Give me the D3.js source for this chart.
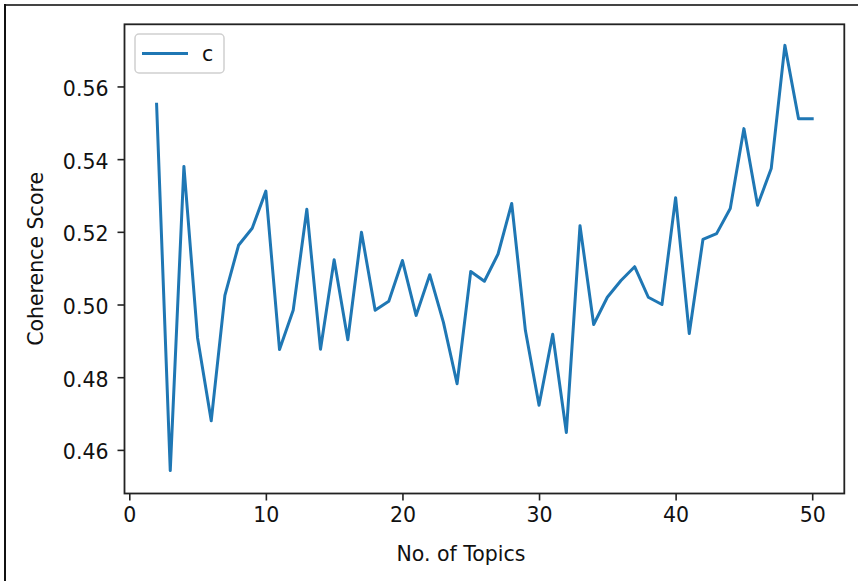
<!DOCTYPE html>
<html>
<head>
<meta charset="utf-8">
<script src="https://d3js.org/d3.v7.min.js"></script>
<style>
  html, body { margin: 0; padding: 0; background: #fff; }
  svg { display: block; }
  text { font-family: "DejaVu Sans", sans-serif; fill: #111; }
</style>
</head>
<body>
<svg id="chart" width="858" height="581"></svg>
<script>
// number of topics and coherence score
const topics = [2, 3, 4, 5, 6, 7, 8, 9, 10, 11, 12, 13, 14, 15, 16, 17, 18, 19, 20, 21,
                22, 23, 24, 25, 26, 27, 28, 29, 30, 31, 32, 33, 34, 35, 36, 37, 38, 39, 40, 41,
                42, 43, 44, 45, 46, 47, 48, 49, 50];
const coherence = [0.5551, 0.4543, 0.5380, 0.4908, 0.4680, 0.5025, 0.5163, 0.5210, 0.5312, 0.4876,
                   0.4984, 0.5262, 0.4877, 0.5123, 0.4903, 0.5199, 0.4984, 0.5009, 0.5121, 0.4970,
                   0.5082, 0.4951, 0.4782, 0.5091, 0.5064, 0.5139, 0.5278, 0.4929, 0.4723, 0.4918,
                   0.4648, 0.5217, 0.4945, 0.5020, 0.5066, 0.5104, 0.5020, 0.5000, 0.5294, 0.4920,
                   0.5179, 0.5195, 0.5264, 0.5484, 0.5273, 0.5374, 0.5713, 0.5511, 0.5511];
const xTicks = [0, 10, 20, 30, 40, 50];
const yTicks = [0.46, 0.48, 0.50, 0.52, 0.54, 0.56];
const seriesName = "c";

const svg = d3.select('#chart');

// outer frame of the picture (top and left edges only)
svg.append('line').attr('x1', 5).attr('x2', 858).attr('y1', 5).attr('y2', 5)
    .attr('stroke', '#444').attr('stroke-width', 2);
svg.append('line').attr('x1', 5).attr('x2', 5).attr('y1', 4).attr('y2', 581)
    .attr('stroke', '#111').attr('stroke-width', 2);

// axes box
const box = { left: 124.5, right: 844.3, top: 24.3, bottom: 493.5 };

const x = d3.scaleLinear().domain([-0.35, 52.35]).range([box.left, box.right]);
const y = d3.scaleLinear().domain([0.448, 0.5771]).range([box.bottom, box.top]);

const data = topics.map((t, i) => ({ t: t, v: coherence[i] }));

const line = d3.line().x(d => x(d.t)).y(d => y(d.v));
svg.append('path')
    .datum(data)
    .attr('d', line)
    .attr('fill', 'none')
    .attr('stroke', '#1f77b4')
    .attr('stroke-width', 3)
    .attr('stroke-linejoin', 'round')
    .attr('stroke-linecap', 'square');

// x axis
const xAxis = d3.axisBottom(x).tickValues(xTicks).tickSize(7).tickPadding(7).tickFormat(d3.format('d'));
const gx = svg.append('g').attr('transform', `translate(0,${box.bottom})`).call(xAxis);
gx.select('.domain').remove();
gx.selectAll('line').attr('stroke', '#222').attr('stroke-width', 1.6);
gx.selectAll('text').attr('font-size', '20.5px').attr('fill', '#111').attr('dy', '0.73em');

// y axis
const yAxis = d3.axisLeft(y).tickValues(yTicks).tickSize(7).tickPadding(9).tickFormat(d3.format('.2f'));
const gy = svg.append('g').attr('transform', `translate(${box.left},0)`).call(yAxis);
gy.select('.domain').remove();
gy.selectAll('line').attr('stroke', '#222').attr('stroke-width', 1.6);
gy.selectAll('text').attr('font-size', '20.5px').attr('fill', '#111').attr('dy', '0.44em');

// spines
svg.append('rect')
    .attr('x', box.left).attr('y', box.top)
    .attr('width', box.right - box.left).attr('height', box.bottom - box.top)
    .attr('fill', 'none').attr('stroke', '#222').attr('stroke-width', 1.8);

// axis labels
svg.append('text')
    .attr('x', 461).attr('y', 561)
    .attr('text-anchor', 'middle')
    .attr('font-size', '20.5px')
    .text('No. of Topics');
svg.append('text')
    .attr('transform', `translate(43,${(box.top + box.bottom) / 2}) rotate(-90)`)
    .attr('text-anchor', 'middle')
    .attr('font-size', '20.5px')
    .text('Coherence Score');

// legend
const lg = svg.append('g');
lg.append('rect')
    .attr('x', 135).attr('y', 34).attr('width', 89).attr('height', 39)
    .attr('rx', 4).attr('fill', '#fff').attr('fill-opacity', 0.8)
    .attr('stroke', '#d0d0d0').attr('stroke-width', 1.5);
lg.append('line')
    .attr('x1', 142).attr('x2', 188).attr('y1', 53.5).attr('y2', 53.5)
    .attr('stroke', '#1f77b4').attr('stroke-width', 3);
lg.append('text')
    .attr('x', 202).attr('y', 61)
    .attr('font-size', '20.5px')
    .text(seriesName);
</script>
</body>
</html>
